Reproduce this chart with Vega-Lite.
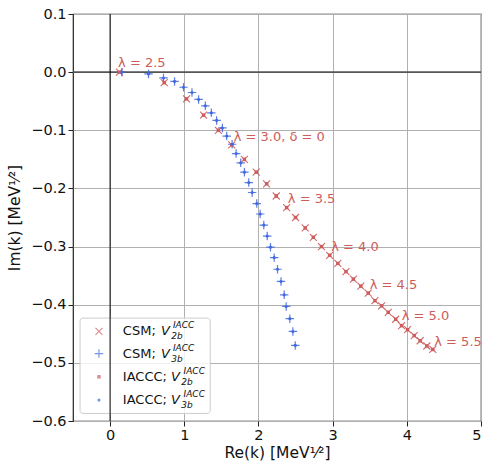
{
  "$schema": "https://vega.github.io/schema/vega-lite/v6.json",
  "width": 408,
  "height": 407,
  "autosize": "none",
  "padding": {"left": 73, "top": 14, "right": 3, "bottom": 41},
  "background": "white",
  "config": {
    "font": "DejaVu Sans",
    "view": {"stroke": "#222222", "strokeWidth": 1.2},
    "axis": {
      "domain": false,
      "grid": true,
      "gridColor": "#b0b0b0",
      "gridWidth": 1,
      "tickColor": "#222222",
      "tickSize": 5,
      "tickWidth": 1,
      "labelFont": "DejaVu Sans",
      "labelFontSize": 14.5,
      "labelColor": "#111111",
      "labelPadding": 2,
      "titleFont": "DejaVu Sans",
      "titleFontSize": 15.5,
      "titleFontWeight": "normal",
      "titleColor": "#111111"
    }
  },
  "datasets": {
    "v2b": [
      {"re": 0.126, "im": 0.0}, {"re": 0.73, "im": -0.018}, {"re": 1.03, "im": -0.046},
      {"re": 1.26, "im": -0.074}, {"re": 1.46, "im": -0.1}, {"re": 1.64, "im": -0.125},
      {"re": 1.81, "im": -0.15}, {"re": 1.97, "im": -0.172}, {"re": 2.11, "im": -0.192},
      {"re": 2.24, "im": -0.213}, {"re": 2.38, "im": -0.233}, {"re": 2.5, "im": -0.25},
      {"re": 2.63, "im": -0.268}, {"re": 2.74, "im": -0.284}, {"re": 2.85, "im": -0.3},
      {"re": 2.96, "im": -0.315}, {"re": 3.07, "im": -0.329}, {"re": 3.18, "im": -0.343},
      {"re": 3.28, "im": -0.356}, {"re": 3.38, "im": -0.368}, {"re": 3.48, "im": -0.38},
      {"re": 3.57, "im": -0.393}, {"re": 3.66, "im": -0.402}, {"re": 3.75, "im": -0.413},
      {"re": 3.85, "im": -0.425}, {"re": 3.93, "im": -0.436}, {"re": 4.01, "im": -0.443},
      {"re": 4.1, "im": -0.453}, {"re": 4.18, "im": -0.462}, {"re": 4.27, "im": -0.471},
      {"re": 4.35, "im": -0.477}
    ],
    "v3b": [
      {"re": 0.158, "im": 0.0}, {"re": 0.518, "im": -0.003}, {"re": 0.72, "im": -0.01},
      {"re": 0.869, "im": -0.016}, {"re": 0.99, "im": -0.026}, {"re": 1.104, "im": -0.035},
      {"re": 1.193, "im": -0.047}, {"re": 1.284, "im": -0.058}, {"re": 1.365, "im": -0.07},
      {"re": 1.436, "im": -0.083}, {"re": 1.514, "im": -0.096}, {"re": 1.572, "im": -0.11},
      {"re": 1.645, "im": -0.124}, {"re": 1.699, "im": -0.14}, {"re": 1.761, "im": -0.156},
      {"re": 1.811, "im": -0.172}, {"re": 1.869, "im": -0.19}, {"re": 1.915, "im": -0.207},
      {"re": 1.977, "im": -0.226}, {"re": 2.023, "im": -0.244}, {"re": 2.072, "im": -0.263},
      {"re": 2.118, "im": -0.282}, {"re": 2.162, "im": -0.301}, {"re": 2.212, "im": -0.319},
      {"re": 2.257, "im": -0.339}, {"re": 2.304, "im": -0.36}, {"re": 2.347, "im": -0.383},
      {"re": 2.374, "im": -0.403}, {"re": 2.423, "im": -0.424}, {"re": 2.464, "im": -0.446},
      {"re": 2.496, "im": -0.47}
    ],
    "labels": [
      {"t": "λ = 2.5", "re": 0.108, "im": 0.0155},
      {"t": "λ = 3.0, δ = 0", "re": 1.666, "im": -0.111},
      {"t": "λ = 3.5", "re": 2.396, "im": -0.219},
      {"t": "λ = 4.0", "re": 2.98, "im": -0.301},
      {"t": "λ = 4.5", "re": 3.5, "im": -0.366},
      {"t": "λ = 5.0", "re": 3.93, "im": -0.42},
      {"t": "λ = 5.5", "re": 4.37, "im": -0.464}
    ],
    "legbox": [{"x1": -0.405, "x2": 1.35, "y1": -0.423, "y2": -0.587}],
    "legsym": [
      {"k": "x", "re": -0.15, "im": -0.4457},
      {"k": "plus", "re": -0.15, "im": -0.484},
      {"k": "sq", "re": -0.15, "im": -0.524},
      {"k": "dot", "re": -0.15, "im": -0.564}
    ],
    "legtxt": [
      {"k": "main", "t": "CSM;", "re": 0.172, "im": -0.4457},
      {"k": "main", "t": "CSM;", "re": 0.172, "im": -0.484},
      {"k": "main", "t": "IACCC;", "re": 0.172, "im": -0.524},
      {"k": "main", "t": "IACCC;", "re": 0.172, "im": -0.564},
      {"k": "v", "t": "V", "re": 0.685, "im": -0.4457},
      {"k": "v", "t": "V", "re": 0.685, "im": -0.484},
      {"k": "v", "t": "V", "re": 0.82, "im": -0.524},
      {"k": "v", "t": "V", "re": 0.82, "im": -0.564},
      {"k": "sup", "t": "IACC", "re": 0.847, "im": -0.4457},
      {"k": "sup", "t": "IACC", "re": 0.847, "im": -0.484},
      {"k": "sup", "t": "IACC", "re": 0.99, "im": -0.524},
      {"k": "sup", "t": "IACC", "re": 0.99, "im": -0.564},
      {"k": "sub", "t": "2b", "re": 0.824, "im": -0.4457},
      {"k": "sub", "t": "3b", "re": 0.824, "im": -0.484},
      {"k": "sub", "t": "2b", "re": 0.959, "im": -0.524},
      {"k": "sub", "t": "3b", "re": 0.959, "im": -0.564}
    ],
    "zero": [{"v": 0}]
  },
  "encoding": {
    "x": {
      "field": "re", "type": "quantitative",
      "scale": {"domain": [-0.5, 5], "nice": false, "zero": false},
      "axis": {"values": [0, 1, 2, 3, 4, 5], "format": "d", "title": "Re(k) [MeV¹⁄²]", "titlePadding": 4}
    },
    "y": {
      "field": "im", "type": "quantitative",
      "scale": {"domain": [-0.6, 0.1], "nice": false, "zero": false},
      "axis": {
        "values": [0.1, 0, -0.1, -0.2, -0.3, -0.4, -0.5, -0.6],
        "labelExpr": "replace(format(datum.value, '.1f'), '-', '−')",
        "title": "Im(k) [MeV¹⁄²]",
        "titlePadding": 8
      }
    }
  },
  "layer": [
    {
      "data": {"name": "zero"},
      "mark": {"type": "rule", "color": "#555555", "strokeWidth": 1.6},
      "encoding": {"y": {"field": "v", "type": "quantitative"}, "x": null}
    },
    {
      "data": {"name": "v2b"},
      "mark": {"type": "point", "shape": "M-1,-1L1,1M-1,1L1,-1", "filled": false, "color": "#cd5c5c", "size": 49, "strokeWidth": 1.1, "opacity": 0.9}
    },
    {
      "data": {"name": "v3b"},
      "mark": {"type": "point", "shape": "M-1,0L1,0M0,-1L0,1", "filled": false, "color": "#4169e1", "size": 72, "strokeWidth": 1.2, "opacity": 0.85}
    },
    {
      "data": {"name": "v2b"},
      "mark": {"type": "point", "shape": "square", "filled": true, "color": "#cd5c5c", "size": 12, "opacity": 1}
    },
    {
      "data": {"name": "v3b"},
      "mark": {"type": "point", "shape": "circle", "filled": true, "color": "#4169e1", "size": 10, "opacity": 1}
    },
    {
      "data": {"name": "labels"},
      "mark": {"type": "text", "align": "left", "baseline": "middle", "fontSize": 13, "color": "#cd5c5c", "font": "DejaVu Sans"},
      "encoding": {"text": {"field": "t"}}
    },
    {
      "data": {"name": "legbox"},
      "mark": {"type": "rect", "fill": "white", "fillOpacity": 0.8, "stroke": "#cccccc", "strokeWidth": 1, "cornerRadius": 3},
      "encoding": {
        "x": {"field": "x1", "type": "quantitative"},
        "x2": {"field": "x2"},
        "y": {"field": "y1", "type": "quantitative"},
        "y2": {"field": "y2"}
      }
    },
    {
      "data": {"name": "zero"},
      "mark": {"type": "rule", "color": "black", "strokeWidth": 1},
      "encoding": {"x": {"field": "v", "type": "quantitative"}, "y": null}
    },
    {
      "data": {"name": "legsym"},
      "transform": [{"filter": "datum.k == 'x'"}],
      "mark": {"type": "point", "shape": "M-1,-1L1,1M-1,1L1,-1", "filled": false, "color": "#cd5c5c", "size": 49, "strokeWidth": 1.1}
    },
    {
      "data": {"name": "legsym"},
      "transform": [{"filter": "datum.k == 'plus'"}],
      "mark": {"type": "point", "shape": "M-1,0L1,0M0,-1L0,1", "filled": false, "color": "#4169e1", "size": 72, "strokeWidth": 1.2}
    },
    {
      "data": {"name": "legsym"},
      "transform": [{"filter": "datum.k == 'sq'"}],
      "mark": {"type": "point", "shape": "square", "filled": true, "color": "#cd5c5c", "size": 12}
    },
    {
      "data": {"name": "legsym"},
      "transform": [{"filter": "datum.k == 'dot'"}],
      "mark": {"type": "point", "shape": "circle", "filled": true, "color": "#4169e1", "size": 10}
    },
    {
      "data": {"name": "legtxt"},
      "transform": [{"filter": "datum.k == 'main'"}],
      "mark": {"type": "text", "align": "left", "baseline": "middle", "fontSize": 13, "color": "#111111"},
      "encoding": {"text": {"field": "t"}}
    },
    {
      "data": {"name": "legtxt"},
      "transform": [{"filter": "datum.k == 'v'"}],
      "mark": {"type": "text", "align": "left", "baseline": "middle", "fontSize": 13, "fontStyle": "italic", "color": "#111111"},
      "encoding": {"text": {"field": "t"}}
    },
    {
      "data": {"name": "legtxt"},
      "transform": [{"filter": "datum.k == 'sup'"}],
      "mark": {"type": "text", "align": "left", "baseline": "middle", "fontSize": 9, "fontStyle": "italic", "dy": -6, "color": "#111111"},
      "encoding": {"text": {"field": "t"}}
    },
    {
      "data": {"name": "legtxt"},
      "transform": [{"filter": "datum.k == 'sub'"}],
      "mark": {"type": "text", "align": "left", "baseline": "middle", "fontSize": 9, "fontStyle": "italic", "dy": 5, "color": "#111111"},
      "encoding": {"text": {"field": "t"}}
    }
  ]
}
